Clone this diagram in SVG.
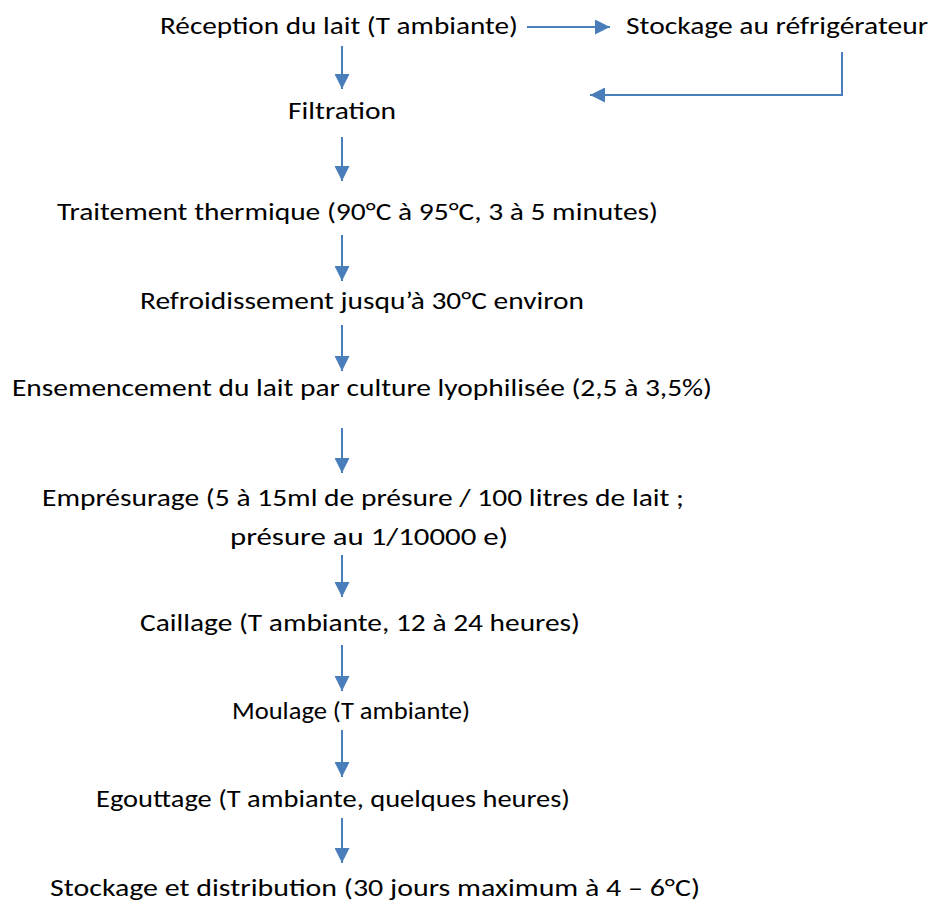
<svg xmlns="http://www.w3.org/2000/svg" width="934" height="924" viewBox="0 0 934 924">
<style>
text{font-family:Carlito,Lato,"Liberation Sans",sans-serif;font-size:24px;font-weight:300;fill:#000}
.c{stroke:#4a7ebb;stroke-width:2;fill:none}
</style>
<defs>
<marker id="a" viewBox="0 0 10 10" refX="10" refY="5" markerWidth="7.5" markerHeight="7.5" markerUnits="strokeWidth" orient="auto"><path d="M0,0L10,5L0,10z" fill="#4a7ebb"/></marker>
</defs>
<rect width="934" height="924" fill="#fff"/>
<g id="connectors">
<path class="c" d="M527,27H610" marker-end="url(#a)"/>
<path class="c" d="M342,46V89" marker-end="url(#a)"/>
<path class="c" d="M842,52V95H590" marker-end="url(#a)"/>
<path class="c" d="M342,137V181" marker-end="url(#a)"/>
<path class="c" d="M342,235V281" marker-end="url(#a)"/>
<path class="c" d="M342,325V371" marker-end="url(#a)"/>
<path class="c" d="M342,428V473" marker-end="url(#a)"/>
<path class="c" d="M342,555V597" marker-end="url(#a)"/>
<path class="c" d="M342,645V691" marker-end="url(#a)"/>
<path class="c" d="M342,730V777" marker-end="url(#a)"/>
<path class="c" d="M342,818V863" marker-end="url(#a)"/>
</g>
<g id="reception"><text x="160" y="34" textLength="358" lengthAdjust="spacingAndGlyphs">Réception du lait (T ambiante)</text></g>
<g id="stockage-frigo"><text x="626" y="34" textLength="302" lengthAdjust="spacingAndGlyphs">Stockage au réfrigérateur</text></g>
<g id="filtration"><text x="288" y="119" textLength="108" lengthAdjust="spacingAndGlyphs">Filtration</text></g>
<g id="traitement"><text x="57" y="220" textLength="601" lengthAdjust="spacingAndGlyphs">Traitement thermique (90°C à 95°C, 3 à 5 minutes)</text></g>
<g id="refroidissement"><text x="140" y="309" textLength="444" lengthAdjust="spacingAndGlyphs">Refroidissement jusqu’à 30°C environ</text></g>
<g id="ensemencement"><text x="12" y="396" textLength="700" lengthAdjust="spacingAndGlyphs">Ensemencement du lait par culture lyophilisée (2,5 à 3,5%)</text></g>
<g id="empresurage"><text x="42" y="506" textLength="642" lengthAdjust="spacingAndGlyphs">Emprésurage (5 à 15ml de présure / 100 litres de lait ;</text><text x="230" y="545" textLength="278" lengthAdjust="spacingAndGlyphs">présure au 1/10000 e)</text></g>
<g id="caillage"><text x="140" y="631" textLength="440" lengthAdjust="spacingAndGlyphs">Caillage (T ambiante, 12 à 24 heures)</text></g>
<g id="moulage"><text x="232" y="719" textLength="238" lengthAdjust="spacingAndGlyphs">Moulage (T ambiante)</text></g>
<g id="egouttage"><text x="96" y="807" textLength="474" lengthAdjust="spacingAndGlyphs">Egouttage (T ambiante, quelques heures)</text></g>
<g id="stockage-distribution"><text x="50" y="896" textLength="650" lengthAdjust="spacingAndGlyphs">Stockage et distribution (30 jours maximum à 4 – 6°C)</text></g>
</svg>
